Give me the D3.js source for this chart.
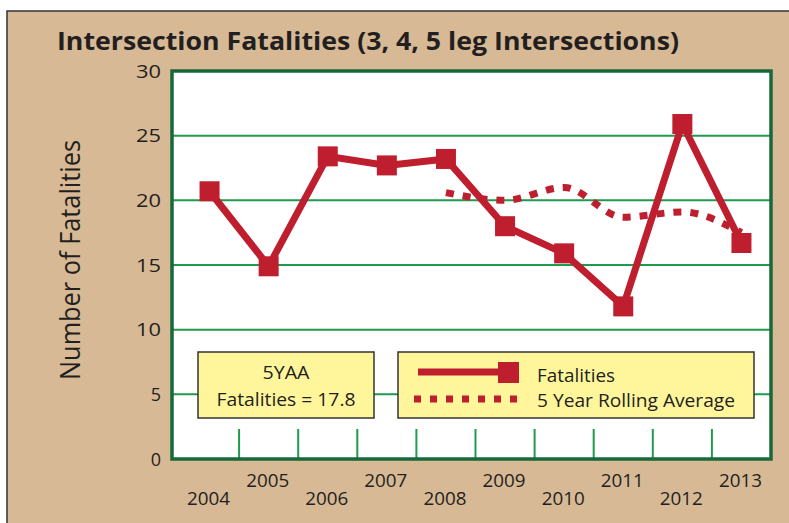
<!DOCTYPE html>
<html>
<head>
<meta charset="utf-8">
<script src="https://cdn.jsdelivr.net/npm/d3@7"></script>
<style>
  body { margin: 0; background: #fff; }
  text { font-family: "Open Sans", "Noto Sans", sans-serif; fill: #231f20; }
</style>
</head>
<body>
<div id="chart"></div>
<script>
const years = ["2004", "2005", "2006", "2007", "2008", "2009", "2010", "2011", "2012", "2013"];
const fatalities = [20.7, 14.9, 23.4, 22.7, 23.2, 18.0, 15.9, 11.8, 25.9, 16.7];
const rollingYears = ["2008", "2009", "2010", "2011", "2012", "2013"];
const rollingAvg = [20.6, 20.0, 21.0, 18.7, 19.1, 17.5];
const yTicks = [0, 5, 10, 15, 20, 25, 30];
const fiveYaa = 17.8;

const width = 789, height = 523;
const red = "#be1e2d", grid = "#1e9b4c", frame = "#17683a", tan = "#d7b995", yellow = "#fff69c";

const svg = d3.select("#chart").append("svg").attr("width", width).attr("height", height);

// tan panel with dark outline
svg.append("rect").attr("x", 7).attr("y", 11).attr("width", 800).attr("height", 600)
    .attr("fill", tan).attr("stroke", "#333").attr("stroke-width", 1.5);

const plot = { left: 172, right: 771, top: 71, bottom: 459 };

const x = d3.scaleBand().domain(years).range([180, plot.right]);
const y = d3.scaleLinear().domain([0, 30]).range([plot.bottom, plot.top]);

svg.append("rect").attr("x", plot.left).attr("y", plot.top)
    .attr("width", plot.right - plot.left).attr("height", plot.bottom - plot.top)
    .attr("fill", "#fff");

// gridlines
svg.append("g").selectAll("line").data(yTicks.filter(d => d > 0 && d < 30)).join("line")
    .attr("x1", plot.left).attr("x2", plot.right)
    .attr("y1", d => y(d)).attr("y2", d => y(d))
    .attr("stroke", grid).attr("stroke-width", 2);

// category separators at the bottom
svg.append("g").selectAll("line").data(years).join("line")
    .attr("x1", d => x(d) + x.bandwidth()).attr("x2", d => x(d) + x.bandwidth())
    .attr("y1", 429).attr("y2", plot.bottom)
    .attr("stroke", grid).attr("stroke-width", 2);

// frame
svg.append("rect").attr("x", plot.left).attr("y", plot.top)
    .attr("width", plot.right - plot.left).attr("height", plot.bottom - plot.top)
    .attr("fill", "none").attr("stroke", frame).attr("stroke-width", 3.5);

// y axis labels
svg.append("g").selectAll("text").data(yTicks).join("text")
    .attr("x", 161).attr("y", d => y(d) + 6.5)
    .attr("text-anchor", "end").attr("font-size", 18)
    .attr("textLength", 25).attr("lengthAdjust", "spacingAndGlyphs")
    .text(d => d)
    .filter(d => d < 10).attr("textLength", null);

// x labels, staggered
svg.append("g").selectAll("text").data(years).join("text")
    .attr("x", d => x(d) + x.bandwidth() / 2 - 1)
    .attr("y", (d, i) => i % 2 === 0 ? 505 : 487)
    .attr("text-anchor", "middle").attr("font-size", 19)
    .attr("textLength", 43).attr("lengthAdjust", "spacingAndGlyphs")
    .text(d => d);

svg.append("text")
    .attr("transform", "translate(80,260) rotate(-90)")
    .attr("text-anchor", "middle").attr("font-size", 27)
    .attr("textLength", 240).attr("lengthAdjust", "spacingAndGlyphs")
    .text("Number of Fatalities");

svg.append("text").attr("x", 57).attr("y", 50)
    .attr("font-size", 25).attr("font-weight", "bold")
    .attr("textLength", 622).attr("lengthAdjust", "spacingAndGlyphs")
    .text("Intersection Fatalities (3, 4, 5 leg Intersections)");

const cx = d => x(d) + x.bandwidth() / 2;

// rolling average (dotted)
svg.append("path")
    .datum(rollingYears.map((d, i) => [cx(d), y(rollingAvg[i])]))
    .attr("d", d3.line().curve(d3.curveMonotoneX))
    .attr("fill", "none").attr("stroke", red).attr("stroke-width", 7)
    .attr("stroke-dasharray", "8,9");

// fatalities line + markers
svg.append("path")
    .datum(years.map((d, i) => [cx(d), y(fatalities[i])]))
    .attr("d", d3.line())
    .attr("fill", "none").attr("stroke", red).attr("stroke-width", 7)
    .attr("stroke-linejoin", "miter");

svg.append("g").selectAll("rect").data(years).join("rect")
    .attr("x", d => cx(d) - 10).attr("y", (d, i) => y(fatalities[i]) - 10)
    .attr("width", 20).attr("height", 20).attr("fill", red);

// 5YAA box
const b1 = svg.append("g");
b1.append("rect").attr("x", 198).attr("y", 352).attr("width", 176).attr("height", 66)
    .attr("fill", yellow).attr("stroke", "#333").attr("stroke-width", 1.5);
b1.append("text").attr("x", 286).attr("y", 379).attr("text-anchor", "middle")
    .attr("font-size", 19).attr("textLength", 47).attr("lengthAdjust", "spacingAndGlyphs")
    .text("5YAA");
b1.append("text").attr("x", 286).attr("y", 406).attr("text-anchor", "middle")
    .attr("font-size", 19).attr("textLength", 139).attr("lengthAdjust", "spacingAndGlyphs")
    .text("Fatalities = " + fiveYaa);

// legend
const lg = svg.append("g");
lg.append("rect").attr("x", 398).attr("y", 352).attr("width", 356).attr("height", 66)
    .attr("fill", yellow).attr("stroke", "#333").attr("stroke-width", 1.5);
lg.append("line").attr("x1", 418).attr("x2", 510).attr("y1", 372).attr("y2", 372)
    .attr("stroke", red).attr("stroke-width", 7);
lg.append("rect").attr("x", 498).attr("y", 362).attr("width", 21).attr("height", 21).attr("fill", red);
lg.append("line").attr("x1", 414).attr("x2", 520).attr("y1", 399).attr("y2", 399)
    .attr("stroke", red).attr("stroke-width", 7).attr("stroke-dasharray", "7,9");
lg.append("text").attr("x", 537).attr("y", 382).attr("font-size", 19)
    .attr("textLength", 78).attr("lengthAdjust", "spacingAndGlyphs").text("Fatalities");
lg.append("text").attr("x", 537).attr("y", 407).attr("font-size", 19)
    .attr("textLength", 198).attr("lengthAdjust", "spacingAndGlyphs").text("5 Year Rolling Average");
</script>
</body>
</html>
